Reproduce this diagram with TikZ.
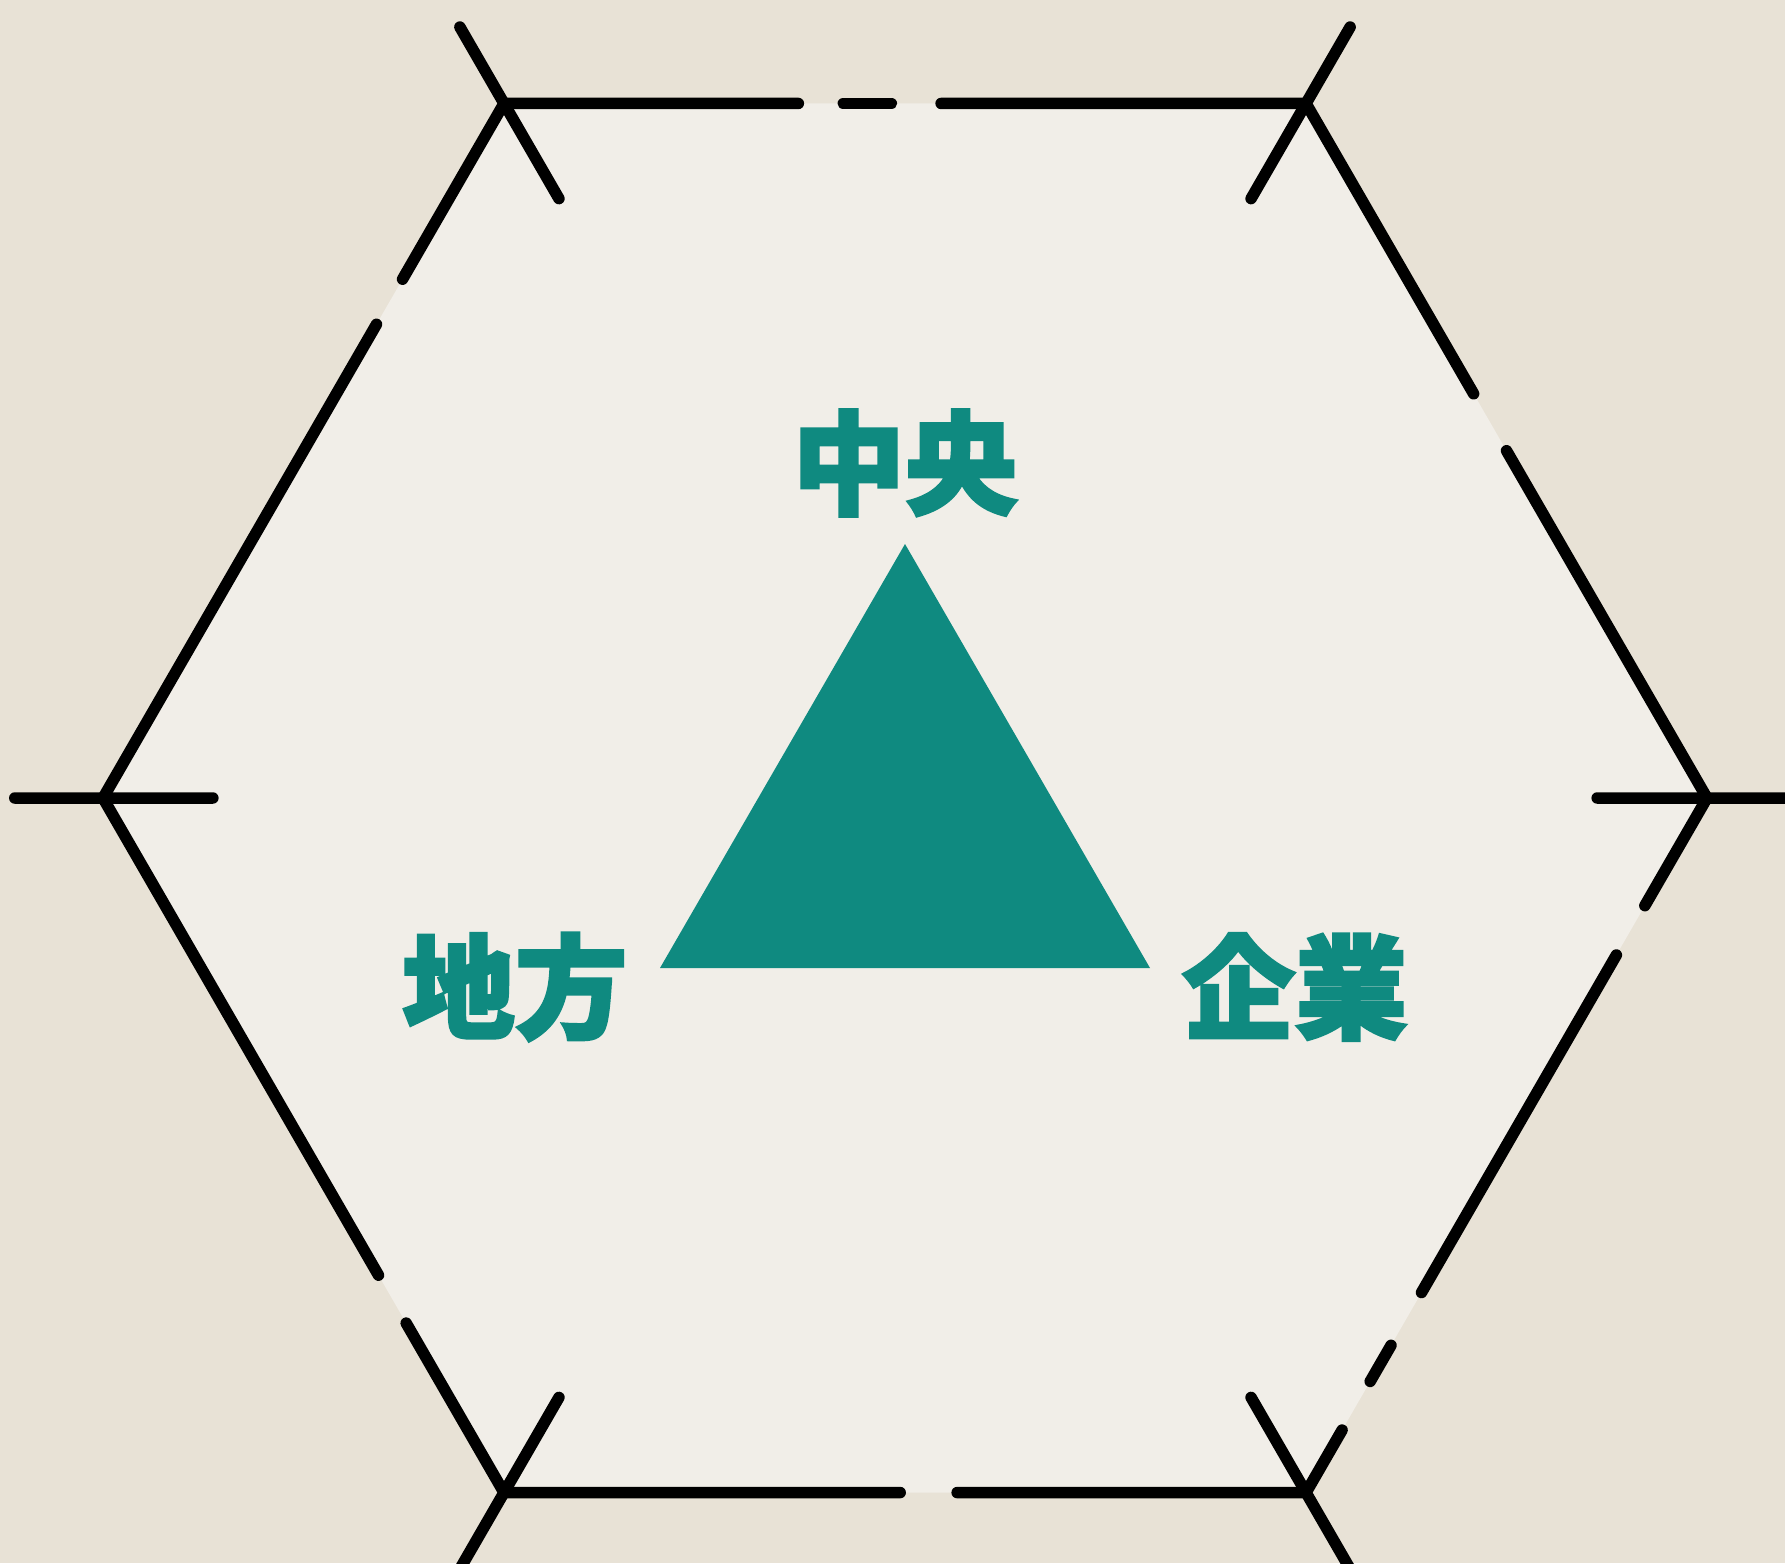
\documentclass[tikz,border=0pt]{standalone}
\usepackage{fontspec}
\newfontfamily\cjk{Noto Sans CJK JP}[BoldFont={Noto Sans CJK JP Black},BoldFeatures={FakeBold=2.5}]
\usetikzlibrary{calc,positioning}
\definecolor{paper}{HTML}{E8E2D6}
\definecolor{paperin}{HTML}{F1EEE8}
\definecolor{tealmark}{HTML}{0F8A80}

\begin{document}
\begin{tikzpicture}[x=0.01cm,y=-0.01cm,
    rim/.style={line width=1.15mm,line cap=round,black},
    spoke/.style={rim},
    word/.style={text=tealmark,font=\cjk\bfseries\fontsize{32}{32}\selectfont,inner sep=0pt}]
    \useasboundingbox (0,0) rectangle (1785,1563);
    \clip (0,0) rectangle (1785,1563);
    \fill[paper] (0,0) rectangle (1785,1563);
    \coordinate (o) at (905,798);
    \foreach \n/\a in {hR/0,hBR/60,hBL/120,hL/180,hTL/240,hTR/300}
      \coordinate (\n) at ($(o)+(\a:802)$);
    \fill[paperin] (hR) -- (hTR) -- (hTL) -- (hL) -- (hBL) -- (hBR) -- cycle;
    % broken sides
    \foreach \a/\b/\s/\e in {hTL/hTR/0/0.367, hTL/hTR/0.423/0.483, hTL/hTR/0.545/1,
        hTL/hL/0/0.253, hTL/hL/0.318/1,
        hL/hBL/0/0.687, hL/hBL/0.756/1,
        hBL/hBR/0/0.494, hBL/hBR/0.565/1,
        hBR/hR/0/0.09, hBR/hR/0.16/0.212, hBR/hR/0.288/0.774, hBR/hR/0.845/1,
        hR/hTR/0/0.5, hR/hTR/0.582/1}
      \draw[rim] ($(\a)!\s!(\b)$) -- ($(\a)!\e!(\b)$);
    % ticks through the corners
    \foreach \n in {hR,hTR,hTL,hL,hBL,hBR}
      \draw[spoke] ($(\n)!-0.11!(o)$) -- ($(\n)!0.137!(o)$);
    % triangle
    \coordinate (apex) at (905,544);
    \coordinate (tBL) at (660,968);
    \coordinate (tBR) at (1150,968);
    \fill[tealmark] (apex) -- (tBL) -- (tBR) -- cycle;
    \node[word] (chuo) at (905,463) {中央};
    \node[word] (chiho) at (515,987) {地方};
    \node[word] (kigyo) at (1295,987) {企業};
\end{tikzpicture}
\end{document}
